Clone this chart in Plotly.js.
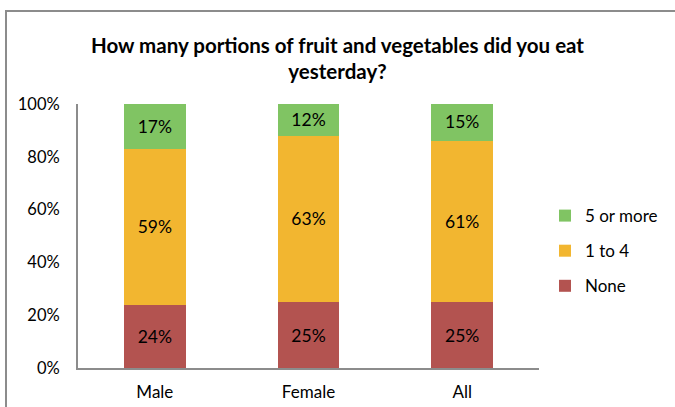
<!DOCTYPE html>
<html><head><meta charset="utf-8">
<script src="https://cdn.plot.ly/plotly-3.0.1.min.js"></script>
<style>
html,body{margin:0;padding:0;background:#fff;overflow:hidden}
#chart{width:675px;height:407px;position:absolute;left:0;top:0}
#frame{position:absolute;left:5px;top:10px;width:700px;height:420px;border:2px solid #8c8c8c;pointer-events:none}
</style></head>
<body>
<div id="chart"></div>
<div id="frame"></div>
<script>
const categories = ["Male", "Female", "All"];
const none = [24, 25, 25];
const oneToFour = [59, 63, 61];
const fiveOrMore = [17, 12, 15];
const seriesNames = ["None", "1 to 4", "5 or more"];
const colors = ["#B35350", "#F2B630", "#80C463"];
const legendRanks = [3, 2, 1];

const font = "Lato, 'Open Sans', sans-serif";
function tr(y, name, color, rank){
  return {type:'bar', x:categories, y:y, name:name, legendgroup:name, legendrank:rank,
    marker:{color:color}, width:0.4,
    text:y.map(v=>v+'%'), textposition:'inside', insidetextanchor:'middle',
    textfont:{family:font,size:17.5,color:'#000'}, constraintext:'none', hoverinfo:'none'};
}
const data = [tr(none, seriesNames[0], colors[0], legendRanks[0]),
              tr(oneToFour, seriesNames[1], colors[1], legendRanks[1]),
              tr(fiveOrMore, seriesNames[2], colors[2], legendRanks[2])];
const layout = {
  width:675, height:407, barmode:'stack',
  paper_bgcolor:'#fff', plot_bgcolor:'#fff',
  margin:{l:78, r:132, t:104, b:39},
  title:{text:'<b>How many portions of fruit and vegetables did you eat<br>yesterday?</b>',
    x:0.5, xanchor:'center', y:0.871, yanchor:'top',
    font:{family:font, size:20.5, color:'#000'}},
  font:{family:font, size:17, color:'#000'},
  xaxis:{showline:true, linecolor:'#8c8c8c', linewidth:2, ticks:'', showgrid:false,
    ticklabelstandoff:8, tickfont:{family:font,size:17,color:'#000'}},
  yaxis:{range:[0,100], tickvals:[0,20,40,60,80,100], ticktext:['0%','20%','40%','60%','80%','100%'],
    showline:true, linecolor:'#8c8c8c', linewidth:2, ticks:'', showgrid:false, zeroline:false,
    ticklabelstandoff:13, tickfont:{family:font,size:16.5,color:'#000'}},
  legend:{x:1.013, y:0.443, yanchor:'middle', xanchor:'left', traceorder:'grouped',
    font:{family:font,size:17,color:'#000'}, itemwidth:30, tracegroupgap:10},
  showlegend:true
};
Plotly.newPlot('chart', data, layout, {displayModeBar:false, staticPlot:true});
</script>
</body></html>
